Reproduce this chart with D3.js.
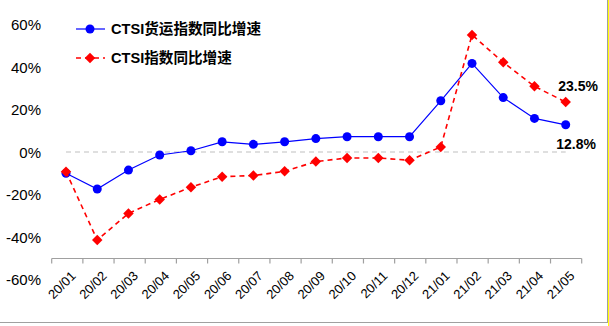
<!DOCTYPE html>
<html>
<head>
<meta charset="utf-8">
<script src="https://cdn.jsdelivr.net/npm/d3@7/dist/d3.min.js"></script>
<style>
  html, body { margin: 0; padding: 0; background: #fff; }
  svg { display: block; }
</style>
</head>
<body>
<script>
// Monthly categories
const months = ["20/01","20/02","20/03","20/04","20/05","20/06","20/07","20/08","20/09",
                "20/10","20/11","20/12","21/01","21/02","21/03","21/04","21/05"];
// CTSI freight index, year-on-year growth (%)
const freightYoY = [-10.0, -17.4, -8.5, -1.4, 0.6, 4.8, 3.6, 4.8, 6.3, 7.2, 7.2, 7.2, 24.1, 41.7, 25.6, 15.8, 12.8];
// CTSI index, year-on-year growth (%)
const indexYoY = [-9.3, -41.4, -28.9, -22.3, -16.6, -11.6, -11.1, -9.1, -4.5, -2.8, -2.8, -3.9, 2.4, 55.1, 42.2, 30.9, 23.5];
// Y axis ticks (%)
const yTicks = [-60, -40, -20, 0, 20, 40, 60];

const seriesNames = ["CTSI货运指数同比增速", "CTSI指数同比增速"];

const W = 609, H = 326;
const svg = d3.select("body").append("svg").attr("width", W).attr("height", H);
const font = "'Liberation Sans', Arial, 'Noto Sans CJK SC', sans-serif";

// Frame
svg.append("rect").attr("x", 0).attr("y", 0).attr("width", W).attr("height", H).attr("fill", "#fff");
svg.append("line").attr("x1", 607.5).attr("x2", 607.5).attr("y1", 0).attr("y2", 323)
  .attr("stroke", "#a0a0a0").attr("stroke-width", 1);
svg.append("rect").attr("x", 608).attr("y", 0).attr("width", 1).attr("height", H).attr("fill", "#ffff00");
svg.append("line").attr("x1", 0).attr("x2", 608).attr("y1", 322.5).attr("y2", 322.5)
  .attr("stroke", "#a0a0a0").attr("stroke-width", 1);

// Scales
const y = d3.scaleLinear().domain([-60, 60]).range([279.5, 24.5]);
const xPts = d3.scalePoint().domain(months).range([66, 565.7]);
const xBand = d3.scaleBand().domain(months).range([51.7, 581.7]).paddingInner(0).paddingOuter(0);

// Y axis labels
const yAxis = d3.axisLeft(y).tickValues(yTicks).tickFormat(d => d + "%").tickSize(0).tickPadding(0);
const gy = svg.append("g").attr("transform", "translate(41,0)").call(yAxis);
gy.select(".domain").remove();
gy.selectAll("text").attr("font-family", font).attr("font-size", 15).attr("fill", "#000")
  .attr("dy", "0.35em");

// Zero reference line
svg.append("line")
  .attr("x1", xPts(months[0])).attr("x2", xPts(months[months.length - 1]))
  .attr("y1", y(0)).attr("y2", y(0))
  .attr("stroke", "#c0c0c0").attr("stroke-width", 1.2).attr("stroke-dasharray", "5,4");

// X axis (category band boundaries)
const axisY = Math.round(y(-50)) + 0.5;
const gx = svg.append("g").attr("transform", `translate(0,${axisY})`);
gx.append("line").attr("x1", xBand.range()[0]).attr("x2", xBand.range()[1])
  .attr("stroke", "#a0a0a0").attr("stroke-width", 1.2);
const bounds = months.map(m => xBand(m)).concat([xBand.range()[1]]);
gx.selectAll("line.tick").data(bounds).enter().append("line")
  .attr("class", "tick")
  .attr("x1", d => d).attr("x2", d => d).attr("y1", 0).attr("y2", 5)
  .attr("stroke", "#a0a0a0").attr("stroke-width", 1.2);
gx.selectAll("text").data(months).enter().append("text")
  .attr("transform", d => `translate(${xBand(d) + xBand.bandwidth() / 2 + 6},${15}) rotate(-45)`)
  .attr("text-anchor", "end")
  .attr("font-family", font).attr("font-size", 13).attr("fill", "#000")
  .attr("dy", "0.35em")
  .text(d => d);

// Series lines and markers
const line = d3.line().x((d, i) => xPts(months[i])).y(d => y(d));
const diamond = d3.symbol().type(d3.symbolDiamond2).size(70);

svg.append("path").datum(freightYoY).attr("d", line)
  .attr("fill", "none").attr("stroke", "#0000ff").attr("stroke-width", 1.2);
svg.append("g").selectAll("circle").data(freightYoY).enter().append("circle")
  .attr("cx", (d, i) => xPts(months[i])).attr("cy", d => y(d)).attr("r", 4.5)
  .attr("fill", "#0000ff");

svg.append("path").datum(indexYoY).attr("d", line)
  .attr("fill", "none").attr("stroke", "#ff0000").attr("stroke-width", 1.6)
  .attr("stroke-dasharray", "5,4");
svg.append("g").selectAll("path").data(indexYoY).enter().append("path")
  .attr("d", diamond)
  .attr("transform", (d, i) => `translate(${xPts(months[i])},${y(d)})`)
  .attr("fill", "#ff0000");

// End value labels
const last = months.length - 1;
svg.append("text").attr("x", 598).attr("y", 91)
  .attr("text-anchor", "end").attr("font-family", font).attr("font-size", 14).attr("font-weight", "bold")
  .text(d3.format(".1f")(indexYoY[last]) + "%");
svg.append("text").attr("x", 596).attr("y", 149)
  .attr("text-anchor", "end").attr("font-family", font).attr("font-size", 14).attr("font-weight", "bold")
  .text(d3.format(".1f")(freightYoY[last]) + "%");

// Legend
const lg = svg.append("g");
lg.append("line").attr("x1", 76).attr("x2", 105).attr("y1", 29).attr("y2", 29)
  .attr("stroke", "#0000ff").attr("stroke-width", 1.2);
lg.append("circle").attr("cx", 90).attr("cy", 29).attr("r", 4.5).attr("fill", "#0000ff");
lg.append("text").attr("x", 111).attr("y", 29).attr("dy", "0.35em")
  .attr("font-family", font).attr("font-size", 14.6).attr("font-weight", "bold").text(seriesNames[0]);

lg.append("line").attr("x1", 76).attr("x2", 105).attr("y1", 58).attr("y2", 58)
  .attr("stroke", "#ff0000").attr("stroke-width", 1.6).attr("stroke-dasharray", "5,4");
lg.append("path").attr("d", diamond).attr("transform", "translate(90,58)").attr("fill", "#ff0000");
lg.append("text").attr("x", 111).attr("y", 58).attr("dy", "0.35em")
  .attr("font-family", font).attr("font-size", 14.6).attr("font-weight", "bold").text(seriesNames[1]);
</script>
</body>
</html>
